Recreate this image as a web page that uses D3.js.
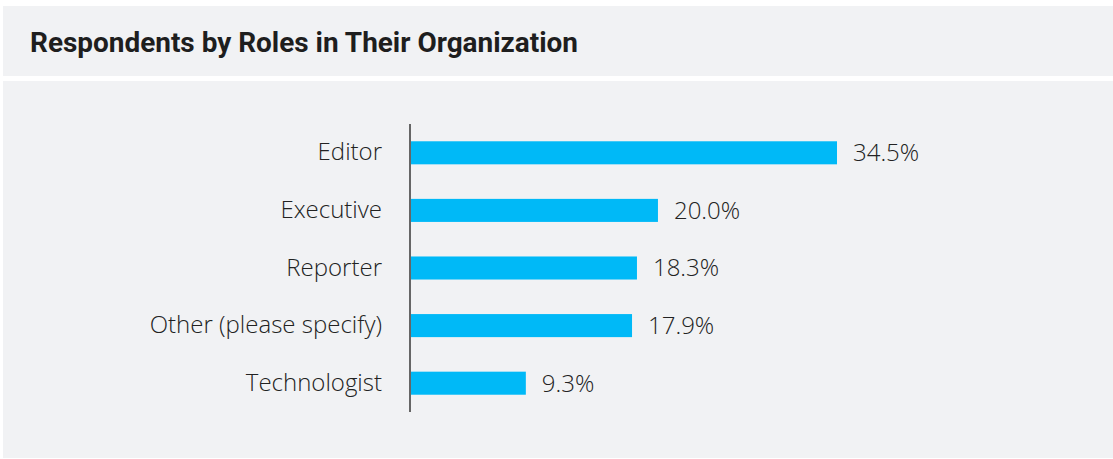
<!DOCTYPE html>
<html>
<head>
<meta charset="utf-8">
<script src="https://cdn.jsdelivr.net/npm/d3@7"></script>
<style>
  html, body { margin: 0; padding: 0; background: #ffffff; }
  svg { display: block; }
</style>
</head>
<body>
<svg id="chart" width="1113" height="459"></svg>
<script>
const title = "Respondents by Roles in Their Organization";
const categories = ["Editor", "Executive", "Reporter", "Other (please specify)", "Technologist"];
const values = [34.5, 20.0, 18.3, 17.9, 9.3];

const svg = d3.select("#chart");
const W = 1113, H = 459;

// panels
svg.append("rect").attr("x", 3).attr("y", 6).attr("width", W - 3).attr("height", 70).attr("fill", "#f1f2f4");
svg.append("rect").attr("x", 3).attr("y", 81).attr("width", W - 3).attr("height", 377).attr("fill", "#f1f2f4");

svg.append("text")
  .attr("x", 30).attr("y", 52)
  .attr("font-family", "Roboto, 'Noto Sans', sans-serif")
  .attr("font-weight", 700)
  .attr("font-size", 27.5)
  .attr("fill", "#1e1e1e")
  .attr("textLength", 548)
  .attr("lengthAdjust", "spacingAndGlyphs")
  .text(title);

const x = d3.scaleLinear().domain([0, 34.5]).range([411, 837]);
const y = d3.scaleBand().domain(categories).range([124, 412]).paddingInner(0.6).paddingOuter(0.3);

svg.append("g").selectAll("rect")
  .data(categories)
  .join("rect")
  .attr("x", x(0))
  .attr("y", d => y(d))
  .attr("width", (d, i) => x(values[i]) - x(0))
  .attr("height", y.bandwidth())
  .attr("fill", "#00b9f7");

const yAxis = svg.append("g")
  .attr("transform", `translate(${x(0) - 1},0)`)
  .call(d3.axisLeft(y).tickSize(0).tickPadding(28));
yAxis.select(".domain").attr("stroke", "#666").attr("stroke-width", 2).attr("d", "M0,124V412");
yAxis.selectAll("text")
  .attr("font-family", "'Open Sans', sans-serif")
  .attr("font-weight", 300)
  .attr("font-size", 24)
  .attr("fill", "#222");

svg.append("g").selectAll("text")
  .data(categories)
  .join("text")
  .attr("x", (d, i) => x(values[i]) + 16)
  .attr("y", d => y(d) + y.bandwidth() / 2)
  .attr("dy", "0.35em")
  .attr("font-family", "'Open Sans', sans-serif")
  .attr("font-weight", 300)
  .attr("font-size", 24)
  .attr("fill", "#222")
  .text((d, i) => values[i].toFixed(1) + "%");
</script>
</body>
</html>
